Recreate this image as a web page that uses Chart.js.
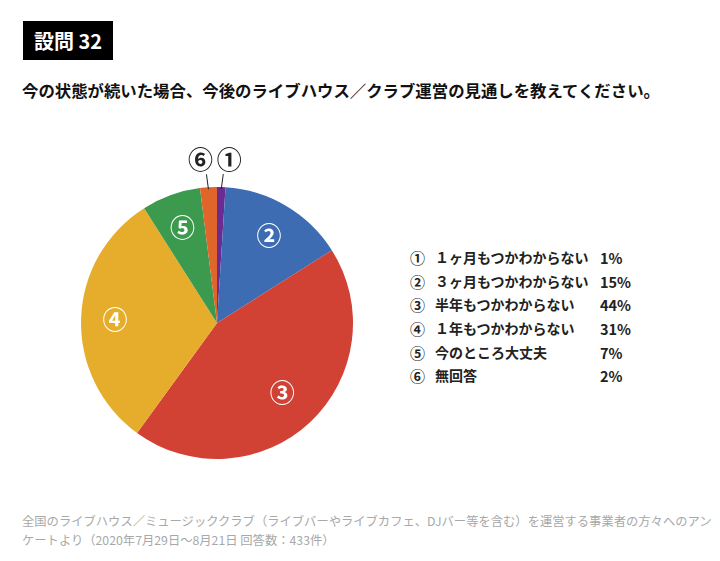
<!DOCTYPE html>
<html lang="ja">
<head>
    <meta charset="UTF-8">
    <title>設問 32</title>
    <script src="https://cdn.jsdelivr.net/npm/chart.js"></script>
    <style>
        body {
            margin: 0;
            padding: 0;
            width: 720px;
            height: 561px;
            background: #fff;
            font-family: "Noto Sans CJK JP", "Noto Sans", sans-serif;
            position: relative;
            overflow: hidden;
        }
        .qno {
            position: absolute;
            left: 23px;
            top: 21px;
            width: 90px;
            height: 39px;
            background: #000;
            color: #fff;
            font-weight: bold;
            font-size: 20px;
            line-height: 39px;
            padding-left: 11px;
            box-sizing: border-box;
        }
        .question {
            position: absolute;
            left: 22px;
            top: 78px;
            font-weight: bold;
            font-size: 16.4px;
            color: #111;
            white-space: nowrap;
        }
        .chart-box {
            position: absolute;
            left: 60px;
            top: 140px;
            width: 320px;
            height: 340px;
        }
        .legend {
            position: absolute;
            left: 410px;
            top: 246px;
            font-weight: bold;
            font-size: 14px;
            color: #222;
        }
        .legend .row {
            height: 23.7px;
            line-height: 23.7px;
            white-space: nowrap;
            position: relative;
        }
        .legend .num { position: absolute; left: 0; font-size: 15px; }
        .legend .txt { position: absolute; left: 25px; }
        .legend .pct { position: absolute; left: 190px; font-size: 14.5px; }
        .source {
            position: absolute;
            left: 22px;
            top: 512px;
            font-size: 12.3px;
            line-height: 19px;
            color: #a8a8a8;
            white-space: nowrap;
        }
    </style>
</head>
<body>

<div class="qno">設問 32</div>
<div class="question">今の状態が続いた場合、今後のライブハウス／クラブ運営の見通しを教えてください。</div>

<div class="chart-box">
    <canvas id="pieChart"></canvas>
</div>

<div class="legend" id="legend"></div>

<div class="source">全国のライブハウス／ミュージッククラブ（ライブバーやライブカフェ、DJバー等を含む）を運営する事業者の方々へのアン<br>ケートより（2020年7月29日～8月21日 回答数：433件）</div>

<script>
    const keys = ['①', '②', '③', '④', '⑤', '⑥'];
    const labels = ['１ヶ月もつかわからない', '３ヶ月もつかわからない', '半年もつかわからない', '１年もつかわからない', '今のところ大丈夫', '無回答'];
    const values = [1, 15, 44, 31, 7, 2];
    const colors = ['#6a2b92', '#3d6cb2', '#d14134', '#e6ad2c', '#3b9a4e', '#e0652a'];

    // 凡例
    const legendEl = document.getElementById('legend');
    labels.forEach((l, i) => {
        const row = document.createElement('div');
        row.className = 'row';
        row.innerHTML = '<span class="num">' + keys[i] + '</span><span class="txt">' + l +
            '</span><span class="pct">' + values[i] + '%</span>';
        legendEl.appendChild(row);
    });

    // スライス上の番号（小さいものは引き出し線）
    const sliceLabels = {
        id: 'sliceLabels',
        afterDatasetsDraw(chart) {
            const ctx = chart.ctx;
            const arcs = chart.getDatasetMeta(0).data;
            ctx.save();
            ctx.font = 'bold 25px "Noto Sans CJK JP", sans-serif';
            ctx.textAlign = 'center';
            ctx.textBaseline = 'middle';
            arcs.forEach((arc, i) => {
                const a = (arc.startAngle + arc.endAngle) / 2;
                if (values[i] >= 5) {
                    const r = arc.outerRadius * (values[i] > 40 ? 0.7 : 0.75);
                    ctx.fillStyle = '#fff';
                    ctx.fillText(keys[i], arc.x + Math.cos(a) * r, arc.y + Math.sin(a) * r);
                } else {
                    const sx = arc.x + Math.cos(a) * arc.outerRadius;
                    const sy = arc.y + Math.sin(a) * arc.outerRadius;
                    const side = Math.cos(a) >= 0 ? 1 : -1;
                    const ex = sx + side * 2;
                    const ey = sy - 13;
                    ctx.strokeStyle = '#222';
                    ctx.lineWidth = 1;
                    ctx.beginPath();
                    ctx.moveTo(sx, sy + 2);
                    ctx.lineTo(ex, ey);
                    ctx.stroke();
                    ctx.fillStyle = '#222';
                    ctx.fillText(keys[i], ex + side * 6, ey - 15);
                }
            });
            ctx.restore();
        }
    };

    new Chart(document.getElementById('pieChart').getContext('2d'), {
        type: 'pie',
        data: {
            labels: labels,
            datasets: [{
                data: values,
                backgroundColor: colors,
                borderWidth: 0
            }]
        },
        options: {
            responsive: true,
            maintainAspectRatio: false,
            animation: false,
            layout: { padding: { left: 21, right: 27, top: 47, bottom: 21 } },
            plugins: {
                legend: { display: false },
                tooltip: { enabled: false }
            }
        },
        plugins: [sliceLabels]
    });
</script>

</body>
</html>
